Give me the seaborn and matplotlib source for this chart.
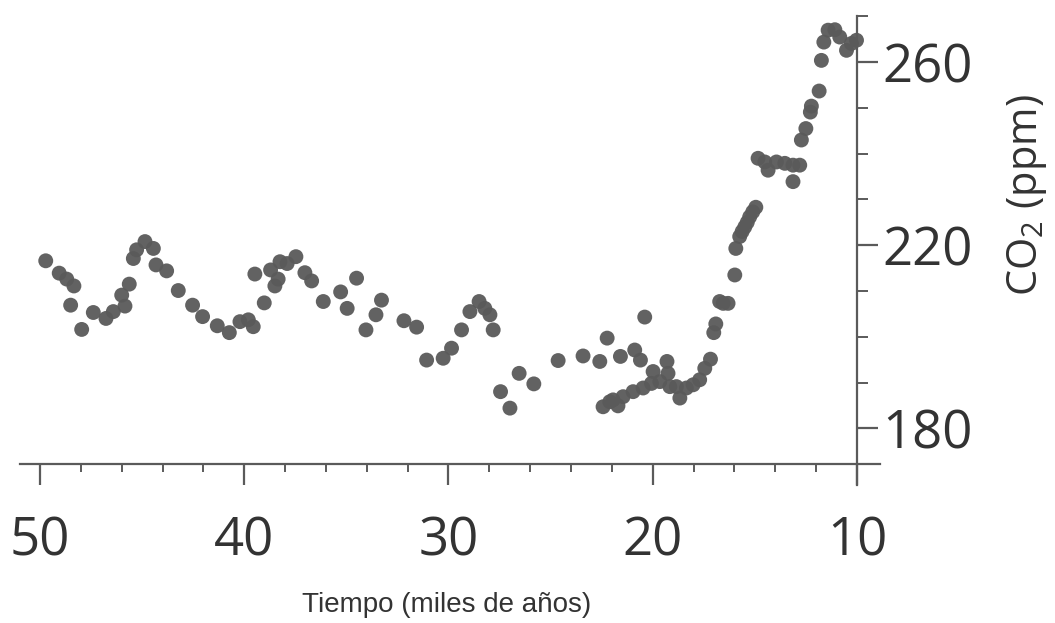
import numpy as np
import pandas as pd
import matplotlib
matplotlib.use("Agg")
import matplotlib.pyplot as plt
from matplotlib.ticker import FixedLocator
import seaborn as sns

# Time (thousands of years before present)
tiempo = [49.72, 49.06, 48.69, 48.34, 48.50, 47.96, 47.39, 46.77, 46.41, 45.84,
          46.00, 45.63, 45.43, 45.27, 44.86, 44.45, 44.32, 43.80, 43.23, 42.53,
          42.04, 41.32, 40.73, 40.21, 39.80, 39.56, 39.02, 39.48, 38.71, 38.50,
          38.34, 38.25, 37.90, 37.47, 37.03, 36.70, 36.13, 35.28, 34.96, 34.50,
          34.04, 33.55, 33.28, 32.18, 31.56, 31.07, 30.26,
          29.85, 29.36, 28.95, 28.50, 28.22, 27.97, 27.81, 27.45, 26.99, 26.54,
          25.82, 24.63, 23.41,
          22.59, 22.23, 21.58, 20.88, 20.60, 20.39, 19.98, 19.30, 19.25,
          22.43, 21.94, 21.45, 20.96, 20.47, 20.06, 19.65, 19.16, 18.67, 18.35,
          18.02, 17.70, 17.45, 17.17, 17.01, 16.91, 16.55,
          22.10, 21.70, 18.84, 16.31, 16.72,
          15.98, 15.93, 15.74, 15.62, 15.49, 15.37, 15.25, 15.10, 14.95,
          14.84, 14.51, 14.35, 13.94, 13.53, 13.13, 13.13, 12.80, 12.72, 12.50,
          12.28, 12.23, 11.85, 11.74, 11.62, 11.41, 11.08, 10.84, 10.51, 10.27,
          10.02]

# CO2 concentration (ppm)
co2 = [216.6, 213.9, 212.6, 211.1, 206.9, 201.6, 205.3, 204.0, 205.5, 206.7,
       209.1, 211.5, 217.1, 219.0, 220.8, 219.3, 215.7, 214.4, 210.1, 206.9,
       204.4, 202.4, 200.9, 203.3, 203.7, 202.2, 207.4, 213.7, 214.6, 211.1,
       212.6, 216.4, 216.0, 217.5, 214.0, 212.2, 207.7, 209.8, 206.2, 212.8,
       201.5, 204.8, 208.0, 203.5, 202.1, 194.9, 195.3,
       197.5, 201.5, 205.5, 207.7, 206.2, 204.8, 201.5, 188.0, 184.4, 192.0,
       189.7, 194.8, 195.8,
       194.6, 199.7, 195.7, 197.1, 194.9, 204.3, 192.4, 194.6, 192.0,
       184.7, 186.2, 186.9, 188.0, 188.8, 189.8, 190.2, 189.1, 186.6, 188.8,
       189.5, 190.6, 193.1, 195.1, 200.9, 202.8, 207.3,
       185.8, 184.9, 189.1, 207.3, 207.7,
       213.5, 219.3, 221.9, 223.0, 224.0, 225.0, 226.2, 227.3, 228.3,
       239.0, 238.2, 236.4, 238.2, 237.9, 237.5, 233.9, 237.5, 243.0, 245.5,
       249.1, 250.4, 253.7, 260.4, 264.4, 267.0, 267.1, 265.5, 262.6, 264.1,
       264.8]

x_major = [50, 40, 30, 20, 10]
x_minor = [48, 46, 44, 42, 38, 36, 34, 32, 28, 26, 24, 22, 18, 16, 14, 12]
y_major = [180, 220, 260]
y_minor = [190, 200, 210, 230, 240, 250, 270]

df = pd.DataFrame({"tiempo": tiempo, "co2": co2})

sns.set_style("white")
plt.rcParams["font.family"] = ["Open Sans", "DejaVu Sans"]
plt.rcParams["mathtext.fontset"] = "custom"
plt.rcParams["mathtext.rm"] = "Open Sans"
plt.rcParams["mathtext.it"] = "Open Sans"

W, H = 1055, 623
fig = plt.figure(figsize=(W / 100, H / 100), dpi=100)
ax = fig.add_axes([20 / W, 1 - 485 / H, 860 / W, 469 / H])

sns.scatterplot(data=df, x="tiempo", y="co2", ax=ax, s=115, color="#5a5a5a",
                edgecolor="none", linewidth=0, alpha=0.95, legend=False)

ax.set_xlim(50.98, 8.87)
ax.set_ylim(167.6, 270.1)

spine_c = "#5a5a5a"
ax.spines["left"].set_visible(False)
ax.spines["top"].set_visible(False)
ax.spines["right"].set_position(("data", 10))
ax.spines["bottom"].set_position(("data", 172.2))
for s in ("right", "bottom"):
    ax.spines[s].set_color(spine_c)
    ax.spines[s].set_linewidth(1.6)

ax.yaxis.tick_right()
ax.xaxis.set_major_locator(FixedLocator(x_major))
ax.xaxis.set_minor_locator(FixedLocator(x_minor))
ax.yaxis.set_major_locator(FixedLocator(y_major))
ax.yaxis.set_minor_locator(FixedLocator(y_minor))
ax.set_xticklabels([str(v) for v in x_major])
ax.set_yticklabels([str(v) for v in y_major])

ax.tick_params(axis="x", which="major", direction="out", length=15, width=1.6,
               color=spine_c, labelsize=38, labelcolor="#333333", pad=22,
               bottom=True, top=False)
ax.tick_params(axis="x", which="minor", direction="out", length=6, width=1.4,
               color=spine_c, bottom=True, top=False)
ax.tick_params(axis="y", which="major", direction="out", length=15, width=1.6,
               color=spine_c, labelsize=38, labelcolor="#333333", pad=3,
               right=True, left=False)
ax.tick_params(axis="y", which="minor", direction="out", length=8, width=1.4,
               color=spine_c, right=True, left=False)

ax.set_xlabel("Tiempo (miles de años)", fontsize=20, color="#333333",
              family=["Liberation Sans", "DejaVu Sans"])
ax.xaxis.set_label_coords((447 - 20) / 860, (485 - 592) / 469)
ax.set_ylabel("CO$_2$ (ppm)", fontsize=30, color="#333333", rotation=90)
ax.yaxis.set_label_position("right")
ax.yaxis.set_label_coords((1027 - 20) / 860, (485 - 195) / 469)
ax.yaxis.label.set_va("center")
ax.yaxis.label.set_ha("center")

fig.savefig("out.png", dpi=100, facecolor="white")
